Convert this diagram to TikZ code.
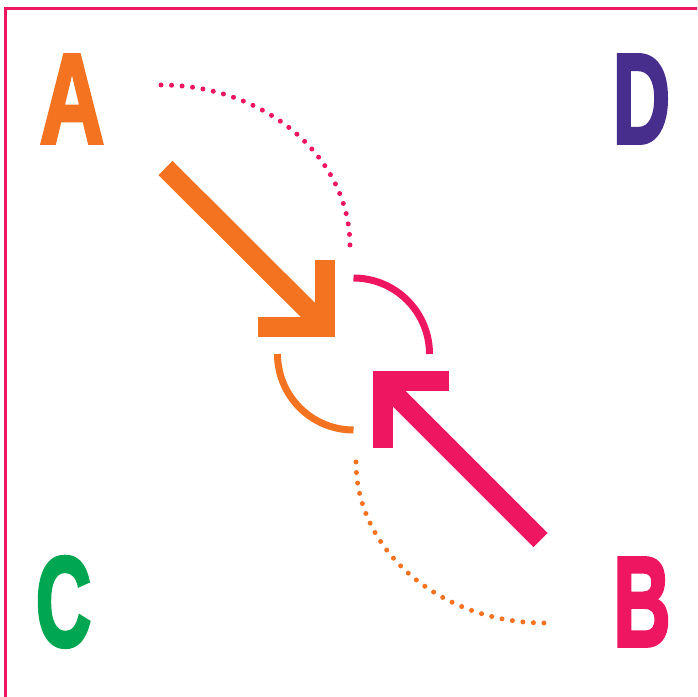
\documentclass[tikz,border=0pt]{standalone}
\usepackage{fontspec}
\setmainfont{Liberation Sans}
\newfontfamily\heavyface[FakeBold=3]{Liberation Sans Bold}
\definecolor{brandorange}{RGB}{243,115,33}
\definecolor{brandpink}{RGB}{238,22,96}
\definecolor{brandpurple}{RGB}{71,45,140}
\definecolor{brandgreen}{RGB}{0,166,81}
\tikzset{
  letter/.style={inner sep=0pt, anchor=base, font=\fontsize{128}{128}\selectfont\heavyface},
  shaft/.style={line width=20pt, line cap=butt},
  head/.style={line width=20pt, line cap=butt, line join=miter},
  ring/.style={line width=7pt, line cap=butt},
  dots/.style={line width=5pt, line cap=round, dash pattern=on 0pt off 10.55pt},
}
\newcommand{\narrow}[2]{\scalebox{#1}[1]{#2}}
\begin{document}
\begin{tikzpicture}[x=1pt,y=1pt]
  \useasboundingbox (0,0) rectangle (697,697);
  \clip (0,0) rectangle (697,697);
  \fill[white] (0,0) rectangle (697,697);
  % frame, running off the right and bottom edges
  \draw[brandpink, line width=3pt] (5,-20) -- (5,688.3) -- (720,688.3);

  % corner letters
  \node[letter, text=brandorange] (A) at (72,554) {\narrow{0.70}{A}};
  \node[letter, text=brandpurple] (D) at (641.5,554) {\narrow{0.62}{D}};
  \node[letter, text=brandgreen]  (C) at (63.5,51)  {\narrow{0.60}{C}};
  \node[letter, text=brandpink]   (B) at (642,51) {\narrow{0.62}{B}};

  % dotted quarter ellipses
  \draw[dots, brandpink] (161,612) arc[start angle=90, end angle=0, x radius=189, y radius=161];
  \draw[dots, brandorange] (356,235) arc[start angle=180, end angle=270, x radius=189, y radius=161];

  % solid quarter rings around the centre
  \draw[ring, brandpink] (353.5,419) arc[start angle=90, end angle=0, radius=76];
  \draw[ring, brandorange] (277.5,343) arc[start angle=180, end angle=270, radius=76];

  % orange arrow pointing down-right
  \draw[shaft, brandorange] (165.5,529) -- (325,370);
  \draw[head, brandorange] (325,437) -- (325,370) -- (258,370);

  % pink arrow pointing up-left
  \draw[shaft, brandpink] (540.5,157) -- (382,315.5);
  \draw[head, brandpink] (382.5,249) -- (382.5,315.5) -- (449,315.5);
\end{tikzpicture}
\end{document}
